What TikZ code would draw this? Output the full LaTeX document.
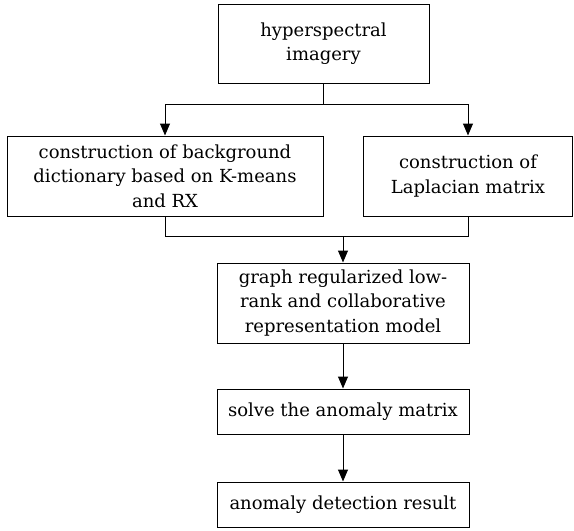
\documentclass[tikz,border=0pt]{standalone}
\usepackage{fontspec}
\setmainfont{DejaVu Serif}
\usetikzlibrary{arrows.meta}
\begin{document}
\begin{tikzpicture}[x=1pt,y=-1pt,
  box/.style={draw, line width=1pt, inner sep=0pt, align=center,
    font=\fontsize{18}{24.5}\selectfont},
  arr/.style={line width=1pt, -{Triangle[length=12pt,width=10pt]}},
  ln/.style={line width=1pt}]
\useasboundingbox (0,0) rectangle (574,531);
\node[box, minimum width=211pt, minimum height=79pt] (top) at (323.5,43.5) {hyperspectral\\imagery};
\node[box, minimum width=316pt, minimum height=80pt] (left) at (165,176) {construction of background\\dictionary based on K-means\\and RX};
\node[box, minimum width=209pt, minimum height=80pt] (right) at (468,176) {construction of\\Laplacian matrix};
\node[box, minimum width=252pt, minimum height=80pt] (mid) at (343,303) {graph regularized low-\\rank and collaborative\\representation model};
\node[box, minimum width=252pt, minimum height=45pt] (solve) at (343,411.5) {solve the anomaly matrix};
\node[box, minimum width=252pt, minimum height=45pt] (res) at (343,504.5) {anomaly detection result};
\coordinate (split) at (323.5,104);
\coordinate (join) at (343,236);
\draw[arr] (top.south) -- (split) -| (left.north);
\draw[arr] (split) -| (right.north);
\draw[ln] (left.south) |- (join);
\draw[ln] (right.south) |- (join);
\draw[arr] (join) -- (mid.north);
\draw[arr] (mid.south) -- (solve.north);
\draw[arr] (solve.south) -- (res.north);
\end{tikzpicture}
\end{document}
